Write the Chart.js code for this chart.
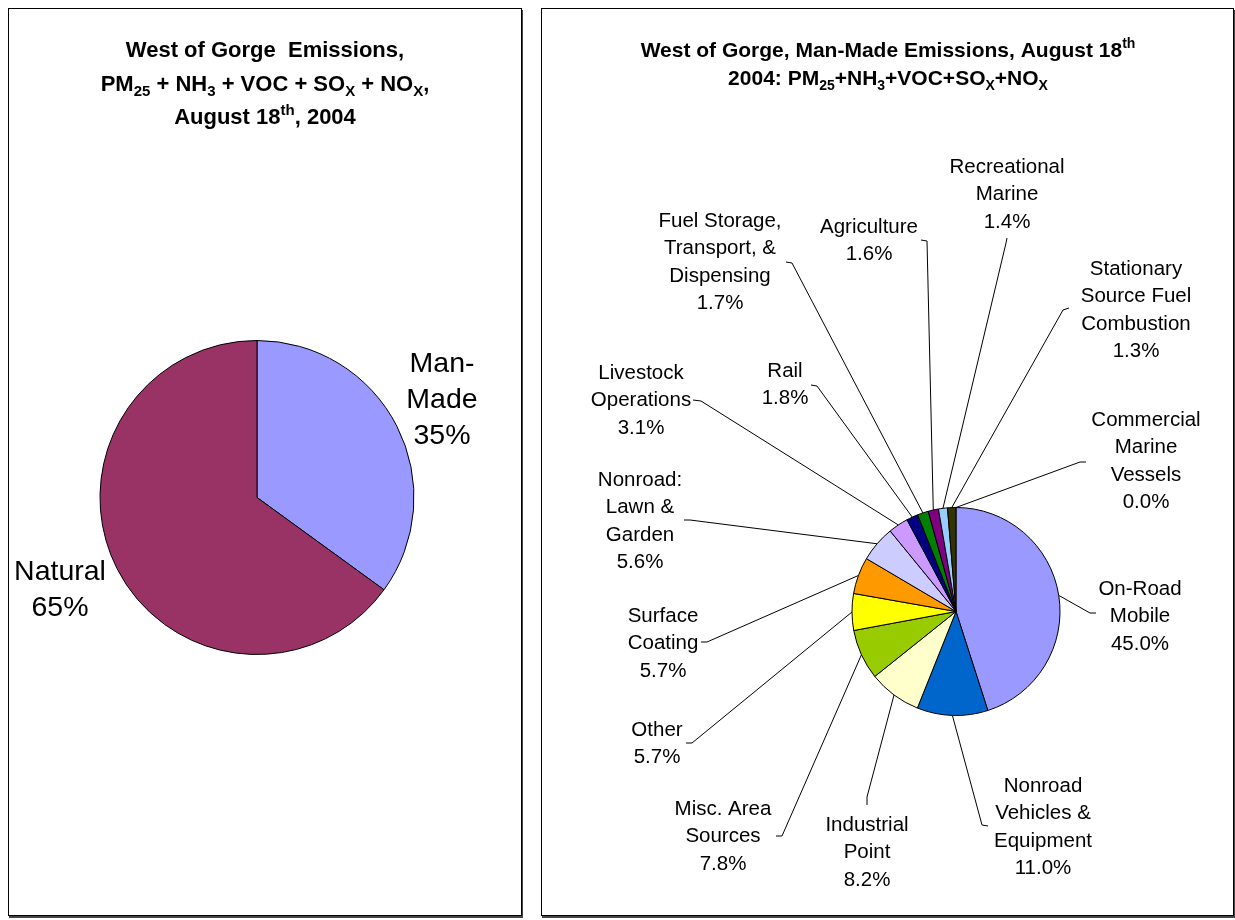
<!DOCTYPE html>
<html>
<head>
<meta charset="utf-8">
<script src="https://cdn.jsdelivr.net/npm/chart.js@4.4.1/dist/chart.umd.min.js"></script>
<style>
  html, body { margin: 0; padding: 0; background: #ffffff; }
  body { width: 1235px; height: 920px; position: relative; overflow: hidden; }
  .box { position: absolute; box-sizing: border-box; border: 1px solid #000; box-shadow: 1px 2px 0 #444; background: #fff; }
  canvas { position: absolute; }
</style>
</head>
<body>
<div class="box" id="boxL" style="left:8px; top:8px; width:514px; height:908px;"></div>
<div class="box" id="boxR" style="left:541px; top:8px; width:693px; height:908px;"></div>
<canvas id="pieL" style="left:8px; top:8px;" width="514" height="908"></canvas>
<canvas id="pieR" style="left:541px; top:8px;" width="693" height="908"></canvas>
<script>
// ---------------- DATA ----------------
const leftCategories = [['Man-', 'Made'], ['Natural']];
const leftValues = [35, 65];
const leftColors = ['#9999FF', '#993366'];

const rightCategories = [
  ['On-Road', 'Mobile'],
  ['Nonroad', 'Vehicles &', 'Equipment'],
  ['Industrial', 'Point'],
  ['Misc. Area', 'Sources'],
  ['Other'],
  ['Surface', 'Coating'],
  ['Nonroad:', 'Lawn &', 'Garden'],
  ['Livestock', 'Operations'],
  ['Rail'],
  ['Fuel Storage,', 'Transport, &', 'Dispensing'],
  ['Agriculture'],
  ['Recreational', 'Marine'],
  ['Stationary', 'Source Fuel', 'Combustion'],
  ['Commercial', 'Marine', 'Vessels']
];
const rightValues = [45.0, 11.0, 8.2, 7.8, 5.7, 5.7, 5.6, 3.1, 1.8, 1.7, 1.6, 1.4, 1.3, 0.0];
const rightColors = ['#9999FF', '#0066CC', '#FFFFCC', '#99CC00', '#FFFF00', '#FF9900', '#CCCCFF',
                     '#CC99FF', '#000080', '#008000', '#800080', '#99CCFF', '#333300', '#FFFFFF'];

const leftTitle = [
  [{t: 'West of Gorge  Emissions,'}],
  [{t: 'PM'}, {t: '25', s: 'sub'}, {t: ' + NH'}, {t: '3', s: 'sub'}, {t: ' + VOC + SO'}, {t: 'X', s: 'sub'}, {t: ' + NO'}, {t: 'X', s: 'sub'}, {t: ','}],
  [{t: 'August 18'}, {t: 'th', s: 'sup'}, {t: ', 2004'}]
];
const rightTitle = [
  [{t: 'West of Gorge, Man-Made Emissions, August 18'}, {t: 'th', s: 'sup'}],
  [{t: '2004: PM'}, {t: '25', s: 'sub'}, {t: '+NH'}, {t: '3', s: 'sub'}, {t: '+VOC+SO'}, {t: 'X', s: 'sub'}, {t: '+NO'}, {t: 'X', s: 'sub'}]
];

// ---------------- LAYOUT (page pixels) ----------------
const FAM = '"Liberation Sans", Arial, Helvetica, sans-serif';

const leftLayout = {
  origin: [8, 8],
  title: {cx: 265, baselines: [57, 91, 124], size: 22},
  font: 28.5, lineH: 36, fmt: v => v.toFixed(0) + '%',
  labels: [
    {cx: 442, y: 372},
    {cx: 60, y: 580}
  ]
};

const rightLayout = {
  origin: [541, 8],
  title: {cx: 888, baselines: [57, 85], size: 21},
  font: 20.5, lineH: 27.3, fmt: v => v.toFixed(1) + '%',
  labels: [
    {cx: 1140, y: 595, a: [1090, 613], k: [1096, 613]},
    {cx: 1043, y: 792, a: [982, 825], k: [988, 826]},
    {cx: 867, y: 831, a: [867, 797], k: [867, 805]},
    {cx: 723, y: 815, a: [782, 836], k: [776, 836]},
    {cx: 657, y: 736, a: [692, 743], k: [686, 743]},
    {cx: 663, y: 622, a: [707, 642], k: [701, 642]},
    {cx: 640, y: 486, a: [690, 520], k: [684, 520]},
    {cx: 641, y: 379, a: [701, 401], k: [693, 400]},
    {cx: 785, y: 377, a: [817, 386], k: [811, 385]},
    {cx: 720, y: 227, a: [792, 263], k: [786, 262]},
    {cx: 869, y: 233, a: [927, 241], k: [921, 240]},
    {cx: 1007, y: 173, a: [1006, 243], k: [1007, 238]},
    {cx: 1136, y: 275, a: [1063, 310], k: [1069, 308]},
    {cx: 1146, y: 426, a: [1080, 462], k: [1086, 462]}
  ]
};

// ---------------- DRAWING HELPERS ----------------
function drawRich(ctx, segs, cx, baseline, size) {
  const big = `bold ${size}px ${FAM}`;
  const small = `bold ${Math.round(size * 0.68)}px ${FAM}`;
  const widths = segs.map(s => { ctx.font = s.s ? small : big; return ctx.measureText(s.t).width; });
  const total = widths.reduce((a, b) => a + b, 0);
  let x = cx - total / 2;
  ctx.textAlign = 'left';
  ctx.textBaseline = 'alphabetic';
  ctx.fillStyle = '#000';
  segs.forEach((s, i) => {
    ctx.font = s.s ? small : big;
    const dy = s.s === 'sub' ? size * 0.22 : (s.s === 'sup' ? -size * 0.42 : 0);
    ctx.fillText(s.t, x, baseline + dy);
    x += widths[i];
  });
}

function makeLabelPlugin(layout, categories, values, titleSegs) {
  return {
    id: 'customLabels',
    afterDatasetsDraw(chart) {
      const ctx = chart.ctx;
      const [ox, oy] = layout.origin;
      ctx.save();
      titleSegs.forEach((line, i) => drawRich(ctx, line, layout.title.cx - ox, layout.title.baselines[i] - oy, layout.title.size));
      const arcs = chart.getDatasetMeta(0).data;
      arcs.forEach((arc, i) => {
        const L = layout.labels[i];
        if (L.a) {
          const p = arc.getProps(['x', 'y', 'startAngle', 'endAngle', 'outerRadius'], true);
          const mid = (p.startAngle + p.endAngle) / 2;
          const sx = p.x + Math.cos(mid) * p.outerRadius;
          const sy = p.y + Math.sin(mid) * p.outerRadius;
          ctx.beginPath();
          ctx.strokeStyle = '#000';
          ctx.lineWidth = 1;
          ctx.moveTo(sx, sy);
          ctx.lineTo(L.a[0] - ox, L.a[1] - oy);
          ctx.lineTo(L.k[0] - ox, L.k[1] - oy);
          ctx.stroke();
        }
        const lines = categories[i].concat([layout.fmt(values[i])]);
        ctx.font = `${layout.font}px ${FAM}`;
        ctx.fillStyle = '#000';
        ctx.textAlign = 'center';
        ctx.textBaseline = 'alphabetic';
        lines.forEach((t, j) => ctx.fillText(t, L.cx - ox, L.y - oy + j * layout.lineH));
      });
      ctx.restore();
    }
  };
}

function makePie(id, categories, values, colors, radius, padding, layout, titleSegs) {
  return new Chart(document.getElementById(id), {
    type: 'pie',
    data: {
      labels: categories.map(c => c.join(' ')),
      datasets: [{
        data: values,
        backgroundColor: colors,
        borderColor: '#000',
        borderWidth: 1,
        hoverOffset: 0,
        radius: radius
      }]
    },
    options: {
      responsive: false,
      animation: false,
      devicePixelRatio: 1,
      layout: {padding: padding},
      plugins: {legend: {display: false}, title: {display: false}, tooltip: {enabled: false}}
    },
    plugins: [makeLabelPlugin(layout, categories, values, titleSegs)]
  });
}

makePie('pieL', leftCategories, leftValues, leftColors, 157,
  {left: 80, right: 96, top: 150, bottom: 79}, leftLayout, leftTitle);
makePie('pieR', rightCategories, rightValues, rightColors, 104,
  {left: 300, right: 163, top: 400, bottom: 101}, rightLayout, rightTitle);
</script>
</body>
</html>
